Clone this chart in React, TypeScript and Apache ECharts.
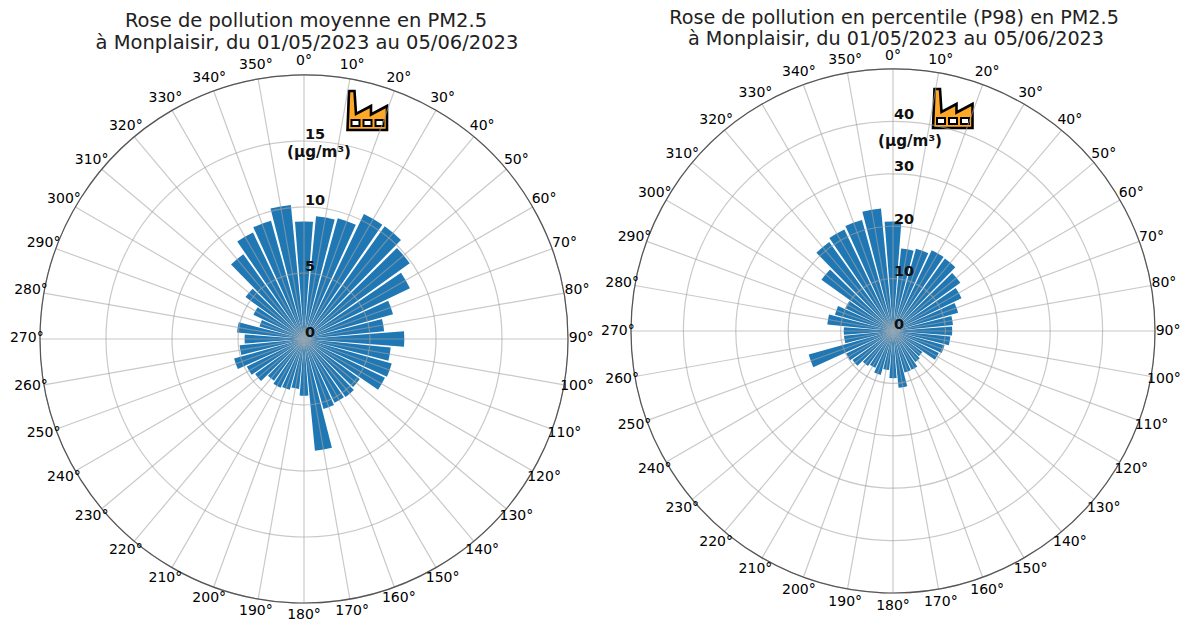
import React, { useEffect, useRef } from "react";
import * as echarts from "echarts";

const angleLabels = ["0°","10°","20°","30°","40°","50°","60°","70°","80°","90°","100°","110°","120°","130°","140°","150°","160°","170°","180°","190°","200°","210°","220°","230°","240°","250°","260°","270°","280°","290°","300°","310°","320°","330°","340°","350°"];
const meanValues = [8.9,9.35,9.5,10.5,10.5,9.85,8.9,7.0,6.1,7.6,6.6,6.9,6.8,5.2,5.4,5.35,5.5,8.5,4.3,3.8,4.0,4.1,3.9,4.55,4.8,5.5,4.9,4.5,5.1,3.5,4.25,5.45,7.9,8.95,9.3,10.2];
const p98Values = [20.9,15.8,16.3,17.1,17,15.8,14.5,12.9,11.5,11.3,11,10.2,9.7,6.9,7.3,8.2,8.2,10.9,9,7.5,8.7,7.8,8.2,9.5,9.9,16.7,9.4,9.4,12.6,11.5,10.1,16.8,20.9,21.5,22,23.5];
const leftTitle = ["Rose de pollution moyenne en PM2.5", "à Monplaisir, du 01/05/2023 au 05/06/2023"];
const rightTitle = ["Rose de pollution en percentile (P98) en PM2.5", "à Monplaisir, du 01/05/2023 au 05/06/2023"];
const unit = "(µg/m³)";

const FONT = "DejaVu Sans";
const GRID = "rgba(165,165,165,0.6)";
const FRAME = "#555";

echarts.graphic.registerShape(
  "factoryIcon",
  echarts.graphic.extendPath(
    "M0.5 40 L2 1 L7.5 1 L9 24 L24 16 L24 24.5 L40 16 L40 40 Z",
    {}
  )
);

function icon(x: number, y: number) {
  const win = (wx: number) => ({
    type: "rect",
    shape: { x: wx, y: 30, width: 8, height: 6 },
    style: { fill: "#fff", stroke: "#000", lineWidth: 2 },
  });
  return {
    type: "group",
    x,
    y,
    z: 20,
    children: [
      { type: "factoryIcon", style: { fill: "#FFA726", stroke: "#000", lineWidth: 2.6 } },
      win(4.5),
      win(16.5),
      win(28.5),
    ],
  };
}

function titleText(lines: string[], cx: number[], ys: number[], size: number) {
  return lines.map((t, i) => ({
    type: "text",
    x: cx[i],
    y: ys[i],
    style: { text: t, font: `${size}px "${FONT}"`, fill: "#222", textAlign: "center", textVerticalAlign: "middle" },
  }));
}

function unitText(x: number, y: number) {
  return {
    type: "text",
    x,
    y,
    z: 20,
    style: { text: unit, font: `bold 15.2px "${FONT}"`, fill: "#111", textAlign: "center", textVerticalAlign: "middle" },
  };
}

// Polars 0 and 1 carry the grid on a value angle axis, so that every circle closes.
function gridAngleAxis(polarIndex: number) {
  return {
    polarIndex,
    type: "value",
    min: 0,
    max: 360,
    interval: 10,
    startAngle: 90,
    clockwise: true,
    z: 5,
    axisLine: { show: true, lineStyle: { color: FRAME, width: 1.2 } },
    axisTick: { show: false },
    axisLabel: { show: false },
    splitLine: { show: true, lineStyle: { color: GRID, width: 1.2 } },
  };
}

function gridRadiusAxis(polarIndex: number, max: number, interval: number) {
  return {
    polarIndex,
    type: "value",
    min: 0,
    max,
    interval,
    z: 5,
    axisLine: { show: false },
    axisTick: { show: false },
    axisLabel: {
      show: true,
      margin: -1,
      align: "left",
      verticalAlign: "bottom",
      fontFamily: FONT,
      fontSize: 14.5,
      fontWeight: "bold",
      color: "#111",
      formatter: (v: number) => (v === max ? "" : String(v)),
    },
    splitLine: { show: true, lineStyle: { color: GRID, width: 1.2 } },
  };
}

// Polars 2 and 3 sit on the same spots and carry the bars on a hidden category axis.
function barAngleAxis(polarIndex: number) {
  return {
    polarIndex,
    type: "category",
    data: angleLabels,
    boundaryGap: false,
    startAngle: 90,
    clockwise: true,
    axisLine: { show: false },
    axisTick: { show: false },
    axisLabel: { show: false },
    splitLine: { show: false },
  };
}

function barRadiusAxis(polarIndex: number, max: number) {
  return {
    polarIndex,
    type: "value",
    min: 0,
    max,
    axisLine: { show: false },
    axisTick: { show: false },
    axisLabel: { show: false },
    splitLine: { show: false },
  };
}

function barSeries(polarIndex: number, data: number[]) {
  return {
    type: "bar",
    coordinateSystem: "polar",
    polarIndex,
    data,
    barWidth: "88%",
    z: 2,
    itemStyle: { color: "#1f77b4" },
  };
}

// Angle tick labels are centred on a circle just outside the frame, as in the reference.
function tickLabelSeries(polarIndex: number, labelRadius: number, offsetY: number) {
  return {
    type: "scatter",
    coordinateSystem: "polar",
    polarIndex,
    symbolSize: 1,
    clip: false,
    silent: true,
    z: 6,
    itemStyle: { color: "rgba(0,0,0,0)" },
    data: angleLabels.map((name) => ({ name, value: [labelRadius, parseInt(name, 10)] })),
    label: {
      show: true,
      position: "inside",
      formatter: "{b}",
      offset: [0, offsetY],
      fontFamily: FONT,
      fontSize: 14,
      color: "#000",
      opacity: 1,
      align: "center",
      verticalAlign: "middle",
    },
  };
}

export default function App() {
  const ref = useRef<HTMLDivElement>(null);
  useEffect(() => {
    const chart = echarts.init(ref.current!, null, { renderer: "svg" });
    chart.setOption({
      animation: false,
      backgroundColor: "#fff",
      polar: [
        { center: [304, 339], radius: 264 },
        { center: [893, 331], radius: 262 },
        { center: [304, 339], radius: 264 },
        { center: [893, 331], radius: 262 },
      ],
      angleAxis: [gridAngleAxis(0), gridAngleAxis(1), barAngleAxis(2), barAngleAxis(3)],
      radiusAxis: [gridRadiusAxis(0, 20, 5), gridRadiusAxis(1, 50, 10), barRadiusAxis(2, 20), barRadiusAxis(3, 50)],
      series: [
        barSeries(2, meanValues),
        barSeries(3, p98Values),
        tickLabelSeries(0, 21, -2),
        tickLabelSeries(1, 52.5, -1),
      ],
      graphic: [
        ...titleText(leftTitle, [306, 307], [20, 42], 19.5),
        ...titleText(rightTitle, [894, 896], [17, 38], 19.2),
        unitText(319, 152),
        unitText(910, 141),
        icon(347, 90),
        icon(932.5, 88),
      ],
    });
    return () => chart.dispose();
  }, []);
  return <div ref={ref} style={{ position: "fixed", left: 0, top: 0, width: 1187, height: 619 }} />;
}
